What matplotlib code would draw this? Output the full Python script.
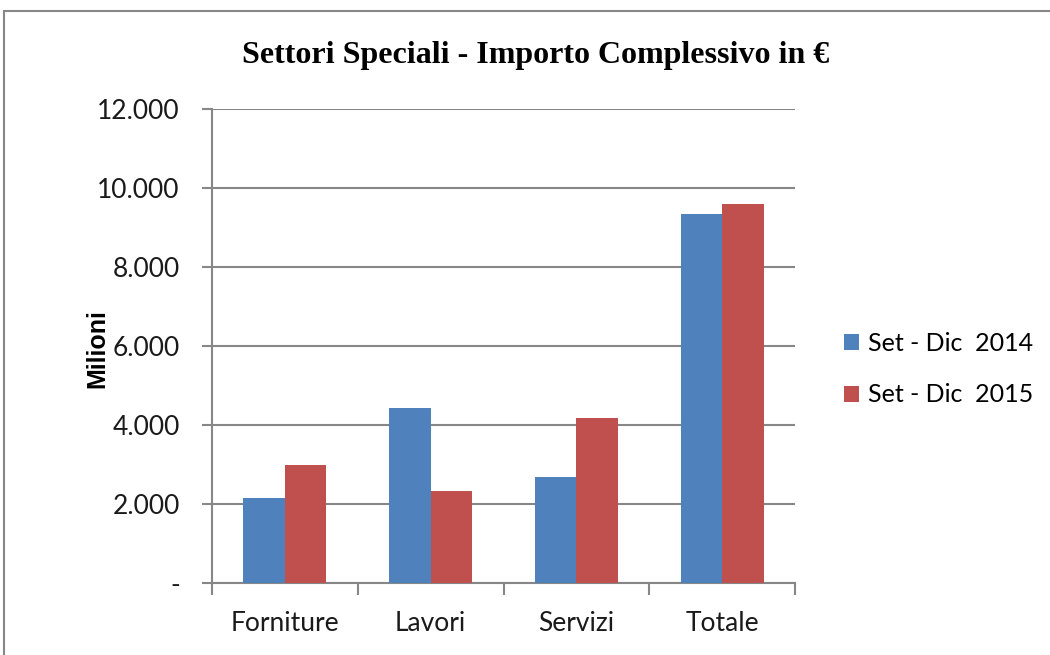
import matplotlib
matplotlib.use("Agg")
import matplotlib.pyplot as plt
import numpy as np
from matplotlib.ticker import FuncFormatter, FixedLocator
from matplotlib.patches import Rectangle

categories = ["Forniture", "Lavori", "Servizi", "Totale"]
series_names = ["Set - Dic  2014", "Set - Dic  2015"]
values_2014 = [2150, 4420, 2690, 9350]
values_2015 = [2990, 2320, 4170, 9600]
colors = ["#4F81BD", "#C0504D"]
title = "Settori Speciali - Importo Complessivo in €"
ylabel = "Milioni"

fig = plt.figure(figsize=(10.5, 6.55), dpi=100)
fig.patches.append(Rectangle((4/1050, -0.1), 1.2, 1 - 11/655 + 0.1, transform=fig.transFigure,
                             fill=False, edgecolor="#878787", linewidth=1.5))
ax = fig.add_axes([212/1050, 1-583/655, (795-212)/1050, (583-109)/655])

x = np.arange(len(categories))
w = 0.285
ax.bar(x - w/2, values_2014, w, color=colors[0], label=series_names[0], zorder=3)
ax.bar(x + w/2, values_2015, w, color=colors[1], label=series_names[1], zorder=3)

ax.set_xlim(-0.5, len(categories) - 0.5)
ax.set_ylim(0, 12000)
ax.set_yticks(np.arange(0, 12001, 2000))

def fmt(v, pos):
    if v == 0:
        return "-"
    return f"{int(v):,}".replace(",", ".")
ax.yaxis.set_major_formatter(FuncFormatter(fmt))

ax.xaxis.set_major_locator(FixedLocator(np.arange(-0.5, len(categories), 1.0)))
ax.xaxis.set_major_formatter(FuncFormatter(lambda v, p: ""))
ax.xaxis.set_minor_locator(FixedLocator(x))
ax.set_xticklabels(categories, minor=True)
ax.tick_params(axis="x", which="minor", length=0, pad=20, labelsize=19, labelcolor="#1a1a1a")
ax.tick_params(axis="x", which="major", length=8.5, width=1.5, color="#878787", direction="out")
ax.tick_params(axis="y", length=7.2, width=1.5, color="#878787", direction="out", pad=16,
               labelsize=19, labelcolor="#1a1a1a")
for lab in ax.get_xticklabels(minor=True) + ax.get_yticklabels():
    lab.set_family("Lato")

ax.grid(axis="y", color="#878787", linewidth=1.5, zorder=0)
for s in ["top", "right"]:
    ax.spines[s].set_visible(False)
for s in ["left", "bottom"]:
    ax.spines[s].set_color("#878787")
    ax.spines[s].set_linewidth(1.5)

fig.text(97/1050, 1-349/655, ylabel, ha="center", va="center", rotation=90, fontsize=18,
         fontweight="bold", family="Liberation Sans")

fig.text(536/1050, 1-55/655, title, ha="center", va="center", fontsize=23,
         fontweight="bold", family="Liberation Serif")

leg = ax.legend(loc="center left", bbox_to_anchor=(834/1050, 1-369/655), bbox_transform=fig.transFigure,
                frameon=False, prop={"family": "Lato", "size": 18}, handlelength=0.6, handleheight=0.6,
                handletextpad=0.35, labelspacing=1.15, borderaxespad=0, borderpad=0.4)

fig.savefig("out.png", dpi=100)
